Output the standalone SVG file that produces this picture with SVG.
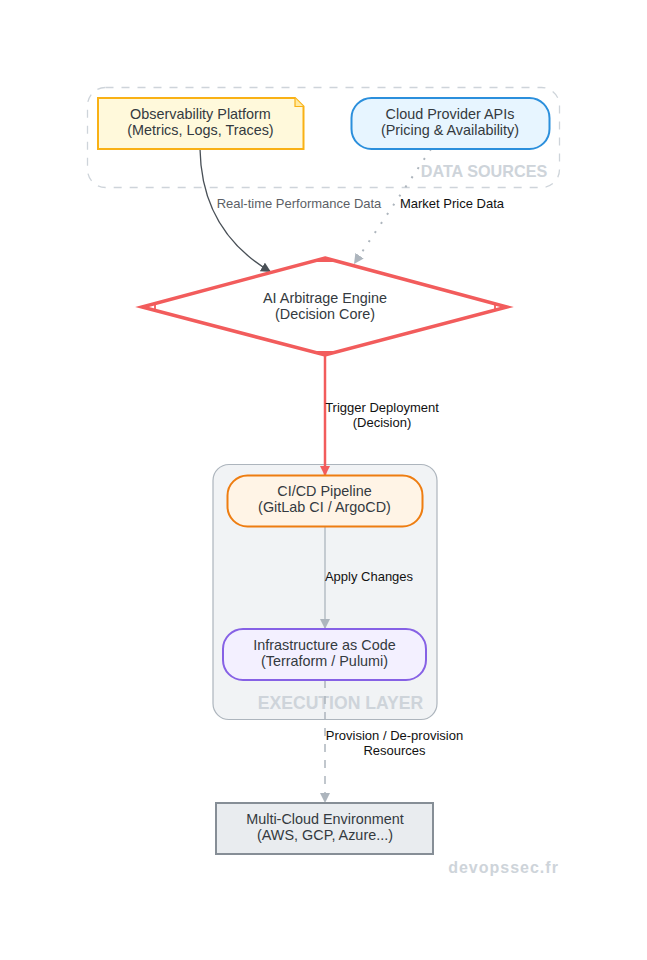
<svg xmlns="http://www.w3.org/2000/svg" width="647" height="960" viewBox="0 0 647 960">
<defs>
<marker id="a-dark" markerUnits="userSpaceOnUse" markerWidth="11" markerHeight="10" refX="10" refY="5" orient="auto"><path d="M0 0L10 5L0 10z" fill="#495057"/></marker>
<marker id="a-grey" markerUnits="userSpaceOnUse" markerWidth="11" markerHeight="10" refX="10" refY="5" orient="auto"><path d="M0 0L10 5L0 10z" fill="#adb5bd"/></marker>
<marker id="a-red" markerUnits="userSpaceOnUse" markerWidth="11" markerHeight="10" refX="10" refY="5" orient="auto"><path d="M0 0L10 5L0 10z" fill="#f25c5c"/></marker>
</defs>
<style>
text{font-family:"Liberation Sans",Arial,sans-serif;text-anchor:middle}
.n{font-size:14.4px;fill:#343a40}
.e{font-size:13px;fill:#111}
.g{font-size:16.2px;font-weight:700;fill:#ced4da}
.c{fill:none}
</style>
<rect width="647" height="960" fill="#fff"/>
<g id="data-sources"><rect x="87.500" y="87.500" width="472" height="100" rx="18" fill="#fff" stroke="#ced4da" stroke-width="1.300" stroke-dasharray="8 8"/><text class="g" x="484" y="177">DATA SOURCES</text></g>
<g id="execution-layer"><rect x="213" y="464.500" width="224" height="255" rx="16" fill="#f1f3f5" stroke="#adb5bd" stroke-width="1.200"/><text class="g" x="340.500" y="709" style="font-size:17.6px">EXECUTION LAYER</text></g>
<g id="connectors" class="c">
<path d="M200 149C201 205 225 245 271 272" stroke="#495057" stroke-width="1.300" fill="none" marker-end="url(#a-dark)"/>
<path d="M431 149L354 264" stroke="#adb5bd" stroke-width="2" stroke-dasharray="2 9" fill="none" marker-end="url(#a-grey)"/>
<path d="M325 356V476" stroke="#f25c5c" stroke-width="2.500" fill="none" marker-end="url(#a-red)"/>
<path d="M325 527V629" stroke="#adb5bd" stroke-width="1.300" fill="none" marker-end="url(#a-grey)"/>
<path d="M325 680V803" stroke="#adb5bd" stroke-width="1.500" stroke-dasharray="8 8" fill="none" marker-end="url(#a-grey)"/>
</g>
<g id="observability"><path d="M98 98H295L303.500 106.500V149H98z" fill="#fff9db" stroke="#f9b115" stroke-width="2"/><path d="M295 98V106.500H303.500" fill="#ffe9a0" stroke="#f9b115" stroke-width="1.200"/><text class="n" x="200.500" y="119">Observability Platform</text><text class="n" x="200.500" y="135">(Metrics, Logs, Traces)</text></g>
<g id="cloud-apis"><rect x="351.500" y="98" width="198" height="51" rx="20" fill="#e7f5ff" stroke="#2b8fdc" stroke-width="2"/><text class="n" x="450" y="119">Cloud Provider APIs</text><text class="n" x="450" y="135">(Pricing &amp; Availability)</text></g>
<g id="engine"><path d="M325 258L507 307L325 355L142 307z" fill="#fff" stroke="#f25c5c" stroke-width="3.500" stroke-linejoin="miter"/><path d="M311 261H339M311 352H339M155 303V311M495 303V311" stroke="#f25c5c" stroke-width="1.800" fill="none"/><text class="n" x="325" y="303">AI Arbitrage Engine</text><text class="n" x="325" y="319">(Decision Core)</text></g>
<g id="cicd"><rect x="227.500" y="475.500" width="195" height="51" rx="20" fill="#fff4e6" stroke="#ee7d11" stroke-width="2"/><text class="n" x="324.500" y="496">CI/CD Pipeline</text><text class="n" x="324.500" y="512">(GitLab CI / ArgoCD)</text></g>
<g id="iac"><rect x="223" y="629" width="203" height="51" rx="20" fill="#f3f0ff" stroke="#8661e5" stroke-width="2"/><text class="n" x="324.500" y="649.500">Infrastructure as Code</text><text class="n" x="324.500" y="665.500">(Terraform / Pulumi)</text></g>
<g id="multi-cloud"><rect x="216" y="803" width="217" height="51" fill="#e9ecef" stroke="#868e96" stroke-width="2"/><text class="n" x="325" y="824">Multi-Cloud Environment</text><text class="n" x="325" y="840">(AWS, GCP, Azure...)</text></g>
<g id="edge-labels">
<text class="e" x="299" y="208" style="fill:#5c5f66">Real-time Performance Data</text>
<text class="e" x="452" y="208">Market Price Data</text>
<text class="e" x="382" y="412">Trigger Deployment</text><text class="e" x="382" y="427">(Decision)</text>
<text class="e" x="369" y="581">Apply Changes</text>
<text class="e" x="394.500" y="740">Provision / De-provision</text><text class="e" x="394.500" y="755">Resources</text>
</g>
<text x="503.500" y="873" style="font-size:16px;font-weight:700;fill:#ced4da;letter-spacing:1px">devopssec.fr</text>
</svg>
